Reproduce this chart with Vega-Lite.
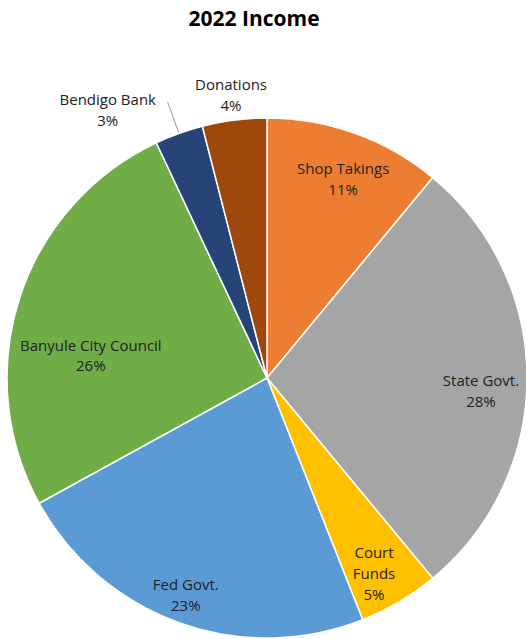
{
  "$schema": "https://vega.github.io/schema/vega-lite/v6.json",
  "autosize": {"type": "none"},
  "padding": {"top": 30, "left": 0, "right": 0, "bottom": 0},
  "width": 534,
  "height": 696,
  "background": "white",
  "title": {"text": "2022 Income", "font": "Open Sans", "fontSize": 21, "fontWeight": "bold", "color": "#000000", "anchor": "middle", "baseline": "alphabetic", "offset": 4, "dx": -13, "dy": 21},
  "data": {"values": [
    {"Category": "Shop Takings", "Value": 11},
    {"Category": "State Govt.", "Value": 28},
    {"Category": "Court Funds", "Value": 5},
    {"Category": "Fed Govt.", "Value": 23},
    {"Category": "Banyule City Council", "Value": 26},
    {"Category": "Bendigo Bank", "Value": 3},
    {"Category": "Donations", "Value": 4}
  ]},
  "transform": [
    {"window": [{"op": "row_number", "as": "idx"}]},
    {"stack": "Value", "groupby": [], "sort": [{"field": "idx", "order": "ascending"}], "as": ["v0", "v1"]},
    {"calculate": "(datum.v0 + datum.v1) / 2", "as": "mid"},
    {"calculate": "datum.Category + '\\n' + datum.Value + '%'", "as": "label"},
    {"calculate": "datum.Category + ' ' + datum.Value + '%'", "as": "labelSpaced"}
  ],
  "layer": [
    {
      "mark": {"type": "arc", "outerRadius": 260, "stroke": "white", "strokeWidth": 1.5},
      "encoding": {
        "theta": {"field": "v0", "type": "quantitative", "scale": {"domain": [0, 100]}},
        "theta2": {"field": "v1"},
        "color": {"field": "Category", "type": "nominal", "legend": null,
          "scale": {"domain": ["Shop Takings", "State Govt.", "Court Funds", "Fed Govt.", "Banyule City Council", "Bendigo Bank", "Donations"],
                    "range": ["#ED7D31", "#A5A5A5", "#FFC000", "#5B9BD5", "#70AD47", "#264478", "#9E480E"]}}
      }
    },
    {
      "transform": [{"filter": "datum.Category == 'Bendigo Bank'"}],
      "mark": {"type": "arc", "outerRadius": 293, "innerRadius": 261, "fillOpacity": 0, "stroke": "#A6A6A6", "strokeWidth": 0.8},
      "encoding": {
        "theta": {"field": "mid", "type": "quantitative", "scale": {"domain": [0, 100]}},
        "theta2": {"field": "mid"}
      }
    },
    {
      "transform": [{"filter": "datum.Category == 'Shop Takings'"}],
      "mark": {"type": "text", "radius": 213, "dx": 4, "dy": -9, "font": "Open Sans", "fontSize": 15, "lineHeight": 21, "lineBreak": "\n", "color": "#222222", "align": "center", "baseline": "middle"},
      "encoding": {"theta": {"field": "mid", "type": "quantitative", "scale": {"domain": [0, 100]}}, "text": {"field": "label"}}
    },
    {
      "transform": [{"filter": "datum.Category == 'State Govt.'"}],
      "mark": {"type": "text", "radius": 206, "dx": 8, "dy": 3, "font": "Open Sans", "fontSize": 15, "lineHeight": 21, "lineBreak": "\n", "color": "#222222", "align": "center", "baseline": "middle"},
      "encoding": {"theta": {"field": "mid", "type": "quantitative", "scale": {"domain": [0, 100]}}, "text": {"field": "label"}}
    },
    {
      "transform": [{"filter": "datum.Category == 'Court Funds'"}],
      "mark": {"type": "text", "radius": 222, "dx": -6, "dy": -16, "font": "Open Sans", "fontSize": 15, "lineHeight": 21, "lineBreak": " ", "color": "#222222", "align": "center", "baseline": "middle"},
      "encoding": {"theta": {"field": "mid", "type": "quantitative", "scale": {"domain": [0, 100]}}, "text": {"field": "labelSpaced"}}
    },
    {
      "transform": [{"filter": "datum.Category == 'Fed Govt.'"}],
      "mark": {"type": "text", "radius": 225, "dx": -5, "dy": -5, "font": "Open Sans", "fontSize": 15, "lineHeight": 21, "lineBreak": "\n", "color": "#222222", "align": "center", "baseline": "middle"},
      "encoding": {"theta": {"field": "mid", "type": "quantitative", "scale": {"domain": [0, 100]}}, "text": {"field": "label"}}
    },
    {
      "transform": [{"filter": "datum.Category == 'Banyule City Council'"}],
      "mark": {"type": "text", "radius": 180, "dx": -5, "dy": 24, "font": "Open Sans", "fontSize": 15, "lineHeight": 20, "lineBreak": "\n", "color": "#222222", "align": "center", "baseline": "middle"},
      "encoding": {"theta": {"field": "mid", "type": "quantitative", "scale": {"domain": [0, 100]}}, "text": {"field": "label"}}
    },
    {
      "transform": [{"filter": "datum.Category == 'Bendigo Bank'"}],
      "mark": {"type": "text", "radius": 293, "dx": -60, "dy": -2, "font": "Open Sans", "fontSize": 15, "lineHeight": 21, "lineBreak": "\n", "color": "#222222", "align": "center", "baseline": "middle"},
      "encoding": {"theta": {"field": "mid", "type": "quantitative", "scale": {"domain": [0, 100]}}, "text": {"field": "label"}}
    },
    {
      "transform": [{"filter": "datum.Category == 'Donations'"}],
      "mark": {"type": "text", "radius": 287, "dy": -8, "font": "Open Sans", "fontSize": 15, "lineHeight": 21, "lineBreak": "\n", "color": "#222222", "align": "center", "baseline": "middle"},
      "encoding": {"theta": {"field": "mid", "type": "quantitative", "scale": {"domain": [0, 100]}}, "text": {"field": "label"}}
    }
  ]
}
